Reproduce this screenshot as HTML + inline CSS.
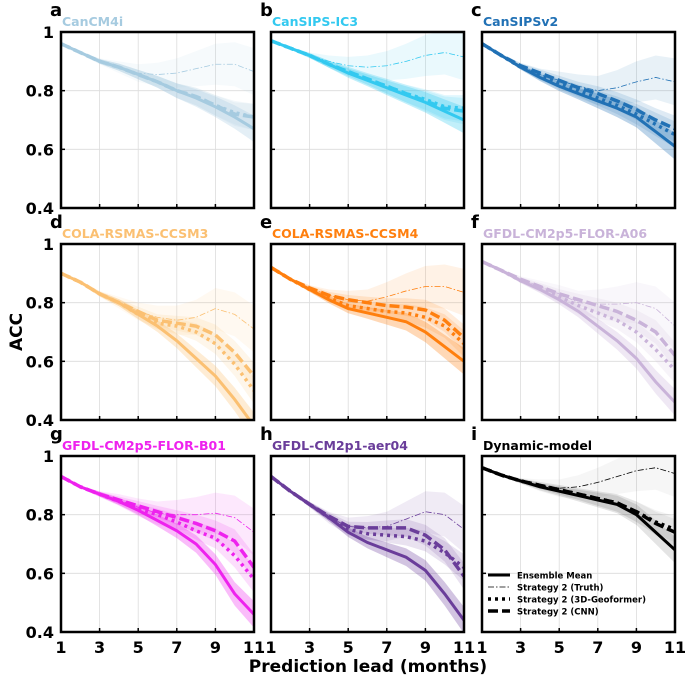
<!DOCTYPE html>
<html><head><meta charset="utf-8"><style>
html,body{margin:0;padding:0;background:#fff;}
svg{display:block;font-family:"DejaVu Sans","Liberation Sans",sans-serif;}
</style></head><body>
<svg id="fig" width="685" height="678" viewBox="0 0 685 678" xmlns="http://www.w3.org/2000/svg"></svg>
<script>
const leads = [1,2,3,4,5,6,7,8,9,10,11];
const xTicks = [1,3,5,7,9,11];
const yTicks = [0.4,0.6,0.8,1.0];
const yTickLabels = ['0.4','0.6','0.8','1'];
const panelLetters = ['a','b','c','d','e','f','g','h','i'];
const panelNames = ['CanCM4i','CanSIPS-IC3','CanSIPSv2','COLA-RSMAS-CCSM3','COLA-RSMAS-CCSM4','GFDL-CM2p5-FLOR-A06','GFDL-CM2p5-FLOR-B01','GFDL-CM2p1-aer04','Dynamic-model'];
const panelColors = ['#a6cbe0','#33c9f0','#2171b5','#fbc072','#ff7f0e','#c9b3d9','#ee22ee','#6a3d9a','#000000'];
const emValues = [
 [.96,.93,.90,.88,.855,.83,.80,.775,.745,.71,.67],
 [.97,.945,.92,.89,.86,.835,.81,.785,.76,.73,.70],
 [.96,.92,.88,.845,.815,.79,.765,.74,.71,.66,.61],
 [.90,.87,.83,.80,.76,.72,.67,.61,.55,.47,.38],
 [.92,.88,.845,.81,.78,.765,.75,.735,.70,.65,.60],
 [.94,.91,.875,.845,.81,.77,.72,.67,.61,.53,.46],
 [.93,.895,.87,.845,.815,.78,.745,.70,.63,.53,.46],
 [.93,.88,.835,.79,.74,.705,.68,.655,.61,.53,.44],
 [.96,.935,.915,.895,.88,.865,.85,.835,.80,.74,.68]];
const truthValues = [
 [.96,.93,.90,.88,.86,.855,.86,.875,.89,.89,.865],
 [.97,.945,.92,.90,.885,.88,.885,.90,.92,.93,.915],
 [.96,.92,.885,.855,.835,.815,.80,.81,.83,.845,.83],
 [.90,.87,.83,.80,.77,.75,.74,.75,.78,.76,.71],
 [.92,.88,.85,.825,.81,.805,.82,.84,.855,.855,.835],
 [.94,.91,.88,.855,.83,.80,.795,.795,.80,.78,.72],
 [.93,.895,.87,.85,.825,.805,.80,.80,.805,.79,.74],
 [.93,.88,.835,.79,.76,.755,.76,.785,.81,.80,.75],
 [.96,.935,.915,.90,.89,.895,.91,.93,.95,.96,.94]];
const geoValues = [
 [.96,.93,.90,.88,.855,.83,.80,.78,.75,.725,.71],
 [.97,.945,.92,.89,.865,.84,.815,.79,.77,.745,.74],
 [.96,.92,.88,.85,.825,.80,.775,.75,.72,.685,.65],
 [.90,.87,.83,.80,.76,.73,.72,.70,.66,.59,.50],
 [.92,.88,.845,.815,.79,.78,.77,.765,.75,.72,.66],
 [.94,.91,.875,.85,.82,.79,.765,.74,.70,.64,.57],
 [.93,.895,.87,.845,.82,.80,.775,.745,.72,.66,.58],
 [.93,.88,.835,.79,.75,.735,.73,.725,.71,.67,.62],
 [.96,.935,.915,.90,.885,.87,.855,.84,.81,.775,.75]];
const cnnValues = [
 [.96,.93,.90,.88,.855,.83,.80,.78,.75,.72,.71],
 [.97,.945,.92,.89,.865,.84,.815,.79,.765,.74,.73],
 [.96,.92,.885,.86,.835,.81,.79,.765,.735,.70,.67],
 [.90,.87,.83,.80,.77,.74,.73,.72,.69,.63,.55],
 [.92,.88,.85,.825,.81,.80,.79,.785,.775,.74,.68],
 [.94,.91,.88,.855,.83,.81,.79,.77,.74,.70,.62],
 [.93,.895,.87,.85,.83,.81,.79,.77,.745,.71,.62],
 [.93,.88,.835,.795,.76,.755,.755,.755,.73,.68,.59],
 [.96,.935,.915,.90,.885,.87,.855,.84,.81,.77,.74]];
const emSpread = [0,.004,.008,.012,.016,.02,.025,.03,.035,.04,.045];
const truthSpread = [0,.005,.01,.02,.03,.04,.05,.06,.07,.075,.08];

const NS = 'http://www.w3.org/2000/svg';
const svg = document.getElementById('fig');
const colX = [61,271,482], rowY = [32,244,456], PW = 193, PH = 176;
function mk(tag, attrs, parent){const e=document.createElementNS(NS,tag);for(const k in attrs)e.setAttribute(k,attrs[k]);(parent||svg).appendChild(e);return e;}

for(let p=0;p<9;p++){
  const c=p%3, r=Math.floor(p/3);
  const x0=colX[c], y0=rowY[r];
  const sx=v=>x0+(v-1)/10*PW;
  const sy=v=>y0+PH-(v-0.4)/0.6*PH;
  const g=mk('g',{});
  
  
  const clipId='clip'+p;
  const cp=mk('clipPath',{id:clipId},g); mk('rect',{x:x0,y:y0,width:PW,height:PH},cp);
  xTicks.forEach(t=>{const l=mk('line',{x1:sx(t),x2:sx(t),y1:y0,y2:y0+PH,stroke:'#dcdcdc','stroke-width':0.8},g);});
  yTicks.forEach(t=>{const l=mk('line',{x1:x0,x2:x0+PW,y1:sy(t),y2:sy(t),stroke:'#dcdcdc','stroke-width':0.8},g);});
  const col=panelColors[p];
  const opScale = p===8 ? 0.35 : 1;
  const plot=mk('g',{'clip-path':'url(#'+clipId+')'},g);
  function band(vals,spread,op,name){
    let d='';
    leads.forEach((L,i)=>{d+=(i?'L':'M')+sx(L)+','+sy(vals[i]+spread[i]);});
    for(let i=leads.length-1;i>=0;i--) d+='L'+sx(leads[i])+','+sy(vals[i]-spread[i]);
    const e=mk('path',{d:d+'Z',fill:col,'fill-opacity':op*opScale,stroke:'none'},plot);
    
    
  }
  band(truthValues[p],truthSpread,0.1,'truth-band');
  band(cnnValues[p],emSpread,0.15,'cnn-band');
  band(geoValues[p],emSpread,0.15,'geoformer-band');
  band(emValues[p],emSpread,0.3,'ensemble-mean-band');
  function line(vals,w,dash,name){
    const pts=leads.map((L,i)=>sx(L)+','+sy(vals[i])).join(' ');
    const e=mk('polyline',{points:pts,fill:'none',stroke:col,'stroke-width':w,'stroke-dasharray':dash},plot);
    
    
  }
  line(truthValues[p],0.8,'6 2 1.5 2','truth-line');
  line(geoValues[p],3.5,'3 4','geoformer-line');
  line(cnnValues[p],3.5,'10 4','cnn-line');
  line(emValues[p],3,'none','ensemble-mean-line');
  xTicks.forEach(t=>mk('line',{x1:sx(t),x2:sx(t),y1:y0+PH,y2:y0+PH-4,stroke:'#000','stroke-width':1.5},g));
  yTicks.forEach(t=>mk('line',{x1:x0,x2:x0+4,y1:sy(t),y2:sy(t),stroke:'#000','stroke-width':1.5},g));
  const fr=mk('rect',{x:x0,y:y0,width:PW,height:PH,fill:'none',stroke:'#000','stroke-width':2.5},g);
  
  
  const lt=mk('text',{x:x0-11,y:y0-16,'font-size':18,'font-weight':'bold',fill:'#000'},g);
  lt.textContent=panelLetters[p];
  
  
  const nt=mk('text',{x:x0+1,y:y0-6,'font-size':12.5,'font-weight':'bold',fill:col},g);
  nt.textContent=panelNames[p];
  
  
  if(c===0){yTicks.forEach((t,i)=>{const e=mk('text',{x:x0-7,y:sy(t)+6,'font-size':16,'font-weight':'bold','text-anchor':'end'},g);e.textContent=yTickLabels[i];});}
  if(r===2){xTicks.forEach(t=>{const e=mk('text',{x:sx(t),y:y0+PH+21,'font-size':16,'font-weight':'bold','text-anchor':'middle'},g);e.textContent=String(t);});}
  if(p===8){
    const lg=mk('g',{},g);
    
    
    const items=[['Ensemble Mean',3,'none'],['Strategy 2 (Truth)',0.8,'6 2 1.5 2'],['Strategy 2 (3D-Geoformer)',3.5,'3 4'],['Strategy 2 (CNN)',3.5,'10 4']];
    items.forEach((it,i)=>{
      const yy=575+i*12;
      mk('line',{x1:488,x2:510,y1:yy,y2:yy,stroke:'#000','stroke-width':it[1],'stroke-dasharray':it[2]},lg);
      const t=mk('text',{x:517,y:yy+3.5,'font-size':8.5,'font-weight':'bold'},lg);
      t.textContent=it[0];
      
      
    });
  }
}
const yt=mk('text',{x:0,y:0,'font-size':17,'font-weight':'bold','text-anchor':'middle',transform:'translate(22,332) rotate(-90)'});
yt.textContent='ACC';


const xt=mk('text',{x:368,y:672,'font-size':17,'font-weight':'bold','text-anchor':'middle'});
xt.textContent='Prediction lead (months)';


</script>
</body></html>
